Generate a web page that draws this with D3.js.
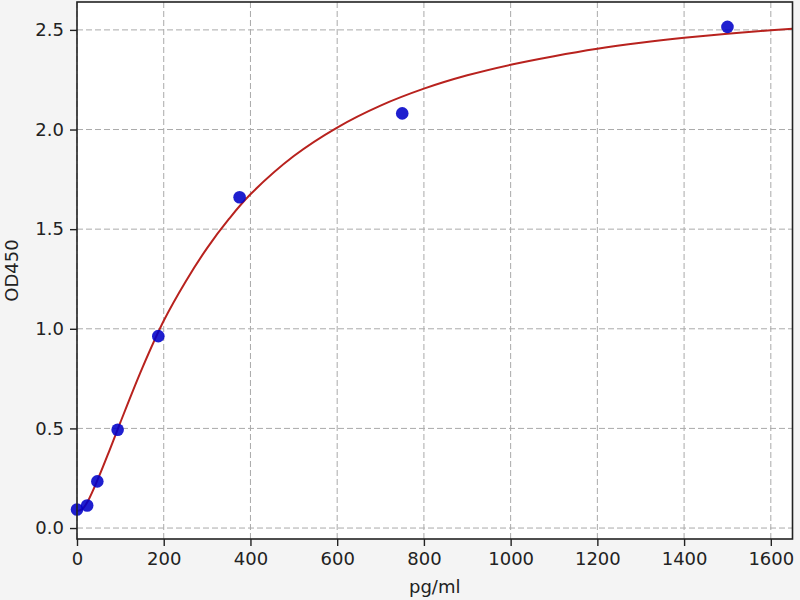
<!DOCTYPE html>
<html>
<head>
<meta charset="utf-8">
<script src="https://cdn.jsdelivr.net/npm/d3@7"></script>
<style>
    body { margin: 0; background: #f4f4f4; }
    text { font-family: "DejaVu Sans", sans-serif; fill: #222; }
</style>
</head>
<body>
<div class="canvas"></div>
<script>
// data
const concentrations = [0, 23.44, 46.88, 93.75, 187.5, 375, 750, 1500];
const odValues = [0.093, 0.113, 0.234, 0.493, 0.963, 1.660, 2.081, 2.515];

// fitted curve
const curveX = [0, 12, 25, 50, 75, 100, 150, 200, 250, 300, 350, 400, 500, 600, 700, 800, 900, 1000, 1100, 1200, 1300, 1400, 1500, 1600, 1650];
const curveY = [0.085, 0.095, 0.135, 0.255, 0.39, 0.53, 0.80, 1.04, 1.235, 1.405, 1.55, 1.675, 1.867, 2.01, 2.12, 2.205, 2.272, 2.325, 2.368, 2.405, 2.435, 2.46, 2.481, 2.498, 2.506];

// ticks
const xTicks = [0, 200, 400, 600, 800, 1000, 1200, 1400, 1600];
const yTicks = [0, 0.5, 1.0, 1.5, 2.0, 2.5];

// svg
const svg = d3.select('.canvas')
    .append('svg')
    .attr('width', 800)
    .attr('height', 600);

svg.append('rect')
    .attr('width', 800)
    .attr('height', 600)
    .attr('fill', '#f4f4f4');

// plot area
const margin = { top: 2, right: 7.5, bottom: 61, left: 77 };
const graphWidth = 800 - margin.left - margin.right;
const graphHeight = 600 - margin.top - margin.bottom;

const graph = svg.append('g')
    .attr('transform', `translate(${margin.left},${margin.top})`);

graph.append('rect')
    .attr('width', graphWidth)
    .attr('height', graphHeight)
    .attr('fill', '#fff');

// scales
const x = d3.scaleLinear()
    .domain([0, 1650])
    .range([0, graphWidth]);

const y = d3.scaleLinear()
    .domain([-0.055, 2.64])
    .range([graphHeight, 0]);

// grid
graph.append('g')
    .selectAll('line')
    .data(xTicks)
    .enter()
    .append('line')
    .attr('x1', d => x(d))
    .attr('x2', d => x(d))
    .attr('y1', 0)
    .attr('y2', graphHeight)
    .attr('stroke', '#aaa')
    .attr('stroke-width', 1)
    .attr('stroke-dasharray', '6,3');

graph.append('g')
    .selectAll('line')
    .data(yTicks)
    .enter()
    .append('line')
    .attr('x1', 0)
    .attr('x2', graphWidth)
    .attr('y1', d => y(d))
    .attr('y2', d => y(d))
    .attr('stroke', '#aaa')
    .attr('stroke-width', 1)
    .attr('stroke-dasharray', '6,3');

// curve
const line = d3.line()
    .x(d => x(d[0]))
    .y(d => y(d[1]))
    .curve(d3.curveCatmullRom);

graph.append('path')
    .datum(d3.zip(curveX, curveY))
    .attr('d', line)
    .attr('fill', 'none')
    .attr('stroke', '#b8221e')
    .attr('stroke-width', 2);

// points
graph.append('g')
    .selectAll('circle')
    .data(d3.zip(concentrations, odValues))
    .enter()
    .append('circle')
    .attr('cx', d => x(d[0]))
    .attr('cy', d => y(d[1]))
    .attr('r', 6.3)
    .attr('fill', '#0000c8')
    .attr('fill-opacity', 0.88);

// axes
const xAxis = d3.axisBottom(x)
    .tickValues(xTicks)
    .tickSize(7)
    .tickPadding(6)
    .tickFormat(d3.format('d'));

const yAxis = d3.axisLeft(y)
    .tickValues(yTicks)
    .tickSize(7)
    .tickPadding(6)
    .tickFormat(d3.format('.1f'));

const xAxisGroup = graph.append('g')
    .attr('transform', `translate(0, ${graphHeight})`)
    .call(xAxis);

const yAxisGroup = graph.append('g')
    .call(yAxis);

[xAxisGroup, yAxisGroup].forEach(g => {
    g.select('.domain').remove();
    g.selectAll('line').attr('stroke', '#222').attr('stroke-width', 1.4);
    g.selectAll('text')
        .attr('font-size', 18)
        .attr('fill', '#222');
});

// frame
graph.append('rect')
    .attr('width', graphWidth)
    .attr('height', graphHeight)
    .attr('fill', 'none')
    .attr('stroke', '#222')
    .attr('stroke-width', 1.6);

// labels
svg.append('text')
    .attr('x', margin.left + graphWidth / 2)
    .attr('y', 593)
    .attr('text-anchor', 'middle')
    .attr('font-size', 18)
    .text('pg/ml');

svg.append('text')
    .attr('transform', `translate(17.5, ${margin.top + graphHeight / 2}) rotate(-90)`)
    .attr('text-anchor', 'middle')
    .attr('font-size', 18)
    .text('OD450');
</script>
</body>
</html>
